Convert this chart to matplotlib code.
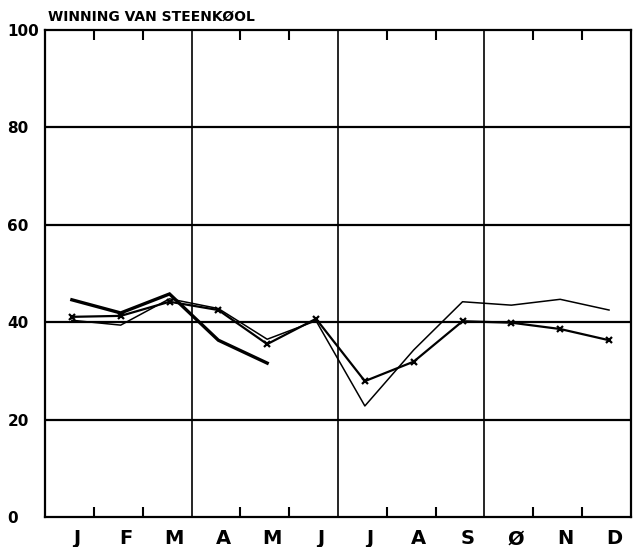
import numpy as np
import matplotlib
matplotlib.use("Agg")
import matplotlib.pyplot as plt

months = ["J", "F", "M", "A", "M", "J", "J", "A", "S", "Ø", "N", "D"]
yticks = [0, 20, 40, 60, 80, 100]

# thick line, only Jan - May
thick = [44.6, 41.9, 45.8, 36.3, 31.6]
# line with x markers
marked = [41.1, 41.3, 44.2, 42.5, 35.5, 40.7, 27.9, 31.9, 40.2, 39.9, 38.6, 36.3]
# thin line
thin = [40.4, 39.4, 44.8, 42.8, 36.5, 40.3, 22.8, 34.3, 44.2, 43.5, 44.7, 42.5]

fig = plt.figure(figsize=(6.33, 5.47), dpi=100)
ax = fig.add_axes([45 / 633, 30 / 547, 586 / 633, 487 / 547])

x = np.arange(12)
ax.plot(x[:len(thick)], thick, color="black", lw=2.4, solid_joinstyle="miter")
ax.plot(x, marked, color="black", lw=1.6, marker="x", ms=5, mew=1.6)
ax.plot(x, thin, color="black", lw=1.1)

ax.set_xlim(-0.55, 11.45)
ax.set_ylim(0, 100)

# horizontal grid lines
for yv in [20, 40, 60, 80]:
    ax.axhline(yv, color="black", lw=1.6)
# quarter lines
for xv in [2.45, 5.45, 8.45]:
    ax.axvline(xv, color="black", lw=1.2)

for s in ax.spines.values():
    s.set_linewidth(1.6)

# month boundary ticks, pointing inwards on top and bottom
ax.set_xticks([0.45, 1.45, 3.45, 4.45, 6.45, 7.45, 9.45, 10.45], minor=True)
ax.tick_params(axis="x", which="minor", direction="in", length=7, width=1.5,
               top=True, bottom=True)
ax.set_xticks(x + 0.1)
ax.set_xticklabels(months, fontsize=14, fontweight="bold",
                   family=["Liberation Sans Narrow", "DejaVu Sans"])
ax.tick_params(axis="x", which="major", length=0, pad=9)

ax.set_yticks(yticks)
ax.set_yticklabels([str(v) for v in yticks], fontsize=11, fontweight="bold")
ax.tick_params(axis="y", length=0, pad=27)
for lab in ax.get_yticklabels():
    lab.set_horizontalalignment("left")

fig.text(48 / 633, 1 - 17 / 547, "WINNING VAN STEENKØOL", fontsize=10,
         fontweight="bold", ha="left", va="center")

fig.savefig("out.png", dpi=100)
